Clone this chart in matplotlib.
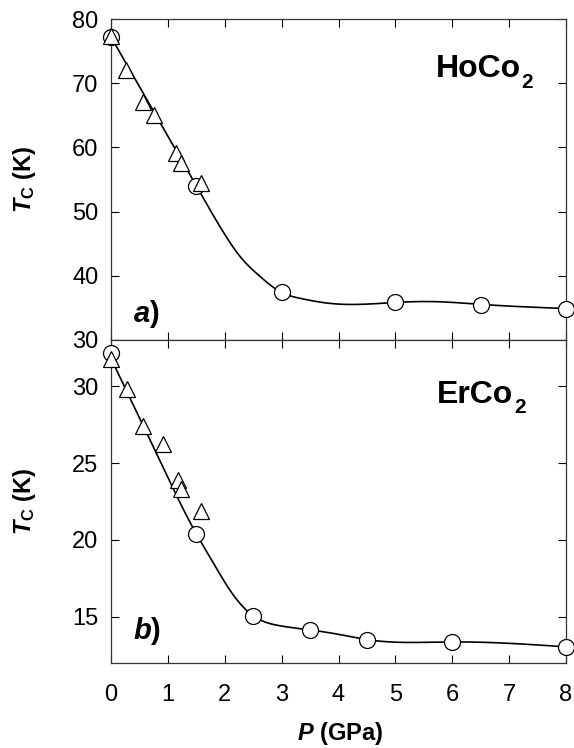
import numpy as np
import matplotlib
matplotlib.use("Agg")
import matplotlib.pyplot as plt

plt.rcParams['font.family'] = ['Liberation Sans', 'DejaVu Sans']
plt.rcParams['mathtext.fontset'] = 'custom'
plt.rcParams['mathtext.it'] = 'Liberation Sans:bold:italic'
plt.rcParams['mathtext.bf'] = 'Liberation Sans:bold'
plt.rcParams['mathtext.rm'] = 'Liberation Sans:bold'

# HoCo2 data
ho_circ_p = [0.0, 1.5, 3.0, 5.0, 6.5, 8.0]
ho_circ_t = [77.2, 54.0, 37.5, 35.9, 35.5, 34.9]
ho_tri_p = [0.0, 0.27, 0.56, 0.76, 1.14, 1.23, 1.59]
ho_tri_t = [77.3, 72.0, 67.0, 65.0, 59.1, 57.5, 54.4]
# guide line
ho_fit_p = [0.0, 0.75, 1.5, 1.92, 2.27, 2.62, 3.0, 3.32, 3.85, 4.73, 5.0, 5.72, 6.5, 8.0]
ho_fit_t = [77.2, 65.6, 54.0, 47.6, 43.0, 39.9, 37.4, 36.5, 35.7, 35.7, 35.85, 35.97, 35.55, 34.9]

# ErCo2 data
er_circ_p = [0.0, 1.5, 2.5, 3.5, 4.5, 6.0, 8.0]
er_circ_t = [32.15, 20.4, 15.05, 14.17, 13.52, 13.37, 13.05]
er_tri_p = [0.0, 0.29, 0.57, 0.92, 1.18, 1.23, 1.58]
er_tri_t = [31.75, 29.8, 27.4, 26.25, 23.9, 23.3, 21.85]
er_fit_p = [0.0, 0.75, 1.5, 1.8, 2.09, 2.5, 2.97, 3.5, 4.02, 4.5, 6.0, 8.0]
er_fit_t = [31.8, 26.0, 20.4, 18.5, 16.74, 15.07, 14.42, 14.15, 13.85, 13.52, 13.37, 13.05]

xticks = [0, 1, 2, 3, 4, 5, 6, 7, 8]
ho_yticks = [30, 40, 50, 60, 70, 80]
er_yticks = [15, 20, 25, 30]


def natural_spline(x, y, xs):
    x = np.asarray(x, float); y = np.asarray(y, float)
    n = len(x)
    h = np.diff(x)
    A = np.zeros((n, n)); b = np.zeros(n)
    A[0, 0] = 1; A[-1, -1] = 1
    for i in range(1, n - 1):
        A[i, i - 1] = h[i - 1]
        A[i, i] = 2 * (h[i - 1] + h[i])
        A[i, i + 1] = h[i]
        b[i] = 6 * ((y[i + 1] - y[i]) / h[i] - (y[i] - y[i - 1]) / h[i - 1])
    M = np.linalg.solve(A, b)
    out = np.empty_like(xs)
    for k, xv in enumerate(xs):
        i = min(max(np.searchsorted(x, xv) - 1, 0), n - 2)
        t1 = x[i + 1] - xv; t0 = xv - x[i]
        out[k] = (M[i] * t1**3 + M[i + 1] * t0**3) / (6 * h[i]) \
            + (y[i] / h[i] - M[i] * h[i] / 6) * t1 \
            + (y[i + 1] / h[i] - M[i + 1] * h[i] / 6) * t0
    return out


fig = plt.figure(figsize=(5.74, 7.48), dpi=100)
L, R = 111 / 574, 566 / 574
ax1 = fig.add_axes([L, 1 - 340 / 748, R - L, (340 - 19) / 748])
ax2 = fig.add_axes([L, 1 - 663 / 748, R - L, (663 - 340) / 748])

mk = dict(markersize=11.5, markerfacecolor='white', markeredgecolor='black',
          markeredgewidth=0.9, linestyle='none', clip_on=False, zorder=3)

for ax, fp, ft, cp, ct, tp, tt in [
        (ax1, ho_fit_p, ho_fit_t, ho_circ_p, ho_circ_t, ho_tri_p, ho_tri_t),
        (ax2, er_fit_p, er_fit_t, er_circ_p, er_circ_t, er_tri_p, er_tri_t)]:
    xs = np.linspace(0, 8, 600)
    ax.plot(xs, natural_spline(fp, ft, xs), color='black', lw=1.2, zorder=2)
    ax.plot(cp, ct, marker='o', **mk)
    ax.plot(tp, tt, marker='^', **mk)
    ax.set_xlim(0, 8)
    ax.set_xticks(xticks)
    ax.tick_params(direction='in', length=6, width=0.8, top=True, right=True,
                   labelsize=17)
    ax.tick_params(axis='y', pad=9)
    ax.tick_params(axis='x', pad=15)
    for s in ax.spines.values():
        s.set_linewidth(0.9)
        s.set_color('#333333')

ax1.set_ylim(30, 80)
ax1.set_yticks(ho_yticks)
ax1.tick_params(labelbottom=False)
ax2.set_ylim(12, 33)
ax2.set_yticks(er_yticks)

for ax in (ax1, ax2):
    ax.set_ylabel(r"$\mathit{T}_{\mathrm{C}}$ (K)", fontsize=17, fontweight='bold')
    ax.yaxis.set_label_coords(-0.16, 0.5)
ax2.set_xlabel(r"$\mathit{P}$ (GPa)", fontsize=17, fontweight='bold')
ax2.xaxis.set_label_coords(0.503, -0.175)

for ax, x, y, name in [(ax1, 7.20, 70.92, "HoCo"), (ax2, 7.07, 28.92, "ErCo")]:
    t = ax.text(x, y, name, fontsize=23, fontweight='bold', ha='right', va='baseline')
    ax.annotate("2", xy=(1, y), xycoords=(t, 'data'), xytext=(0.5, -7.5),
                textcoords='offset points', fontsize=15, fontweight='bold',
                ha='left', va='baseline')

ax1.text(0.39, 32.85, r"$\mathit{a}$)", fontsize=21, fontweight='bold',
         ha='left', va='baseline')
ax2.text(0.39, 13.55, r"$\mathit{b}$)", fontsize=21, fontweight='bold',
         ha='left', va='baseline')

fig.savefig("out.png", dpi=100)
